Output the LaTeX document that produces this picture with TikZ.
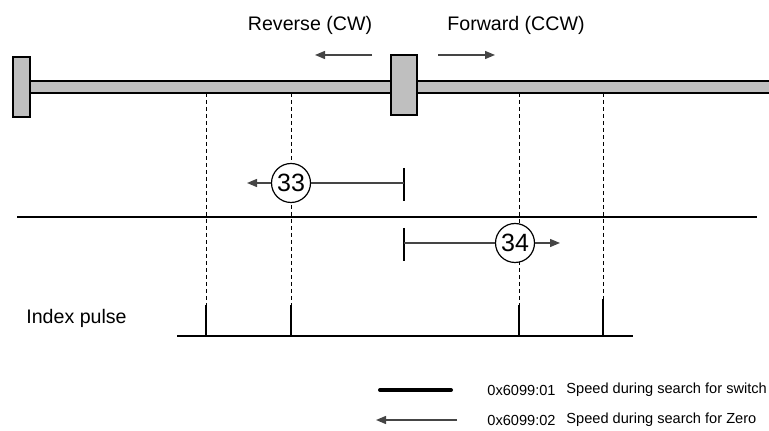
\documentclass[tikz,border=0pt]{standalone}
\usepackage{fontspec}
\setmainfont{Liberation Sans}
\usetikzlibrary{arrows.meta,positioning}
\definecolor{railgray}{HTML}{BFBFBF}
\definecolor{arrgray}{HTML}{454545}

\begin{document}
\begin{tikzpicture}[x=0.5pt,y=-0.5pt,>={Triangle[length=5pt,width=4pt]},
  lbl/.style={font=\fontsize{9.8}{12}\selectfont,inner sep=0pt},
  leg/.style={font=\fontsize{7.3}{9}\selectfont,inner sep=0pt,anchor=west},
  num/.style={draw,circle,minimum size=19.5pt,inner sep=0pt,line width=0.6pt,fill=white,font=\fontsize{12.5}{14}\selectfont},
  spd/.style={line width=0.65pt,arrgray},
  blk/.style={fill=railgray,line width=1.1pt}]
\useasboundingbox (0,0) rectangle (769,431);
\fill[railgray] (30,81) rectangle (769,93);
\draw[line width=1.25pt] (30,81)--(769,81) (30,93)--(769,93);
\filldraw[blk] (13,57) rectangle (30,117); \filldraw[blk] (391,55) rectangle (417,115);
\node[lbl] (rev) at (310,25) {Reverse (CW)}; \node[lbl] (fwd) at (516,25) {Forward (CCW)};
\coordinate (revA) at (372,55); \coordinate (revB) at (315,55);
\coordinate (fwdA) at (438,55); \coordinate (fwdB) at (495,55);
\draw[spd,->] (revA)--(revB); \draw[spd,->] (fwdA)--(fwdB);
\foreach \x/\t in {206/305,291/305,519/305,603/299} {
  \draw[line width=0.5pt,dash pattern=on 2pt off 1.5pt] (\x,93)--(\x,\t);
  \draw[line width=1pt] (\x,\t)--(\x,337);
}
\draw[line width=1pt] (17,217)--(757,217);
\draw[line width=1pt] (177,336)--(633,336);
\node[lbl,anchor=west] (idx) at (26,318) {Index pulse};
\draw[line width=1pt] (404,168)--(404,201); \draw[line width=1pt] (404,228)--(404,261);
\coordinate (s33) at (404,183); \coordinate (e33) at (247,183);
\coordinate (s34) at (404,243); \coordinate (e34) at (560,243);
\node[num] (n33) at (291,183) {33}; \node[num] (n34) at (515,243) {34};
\draw[spd] (s33)--(n33); \draw[spd,->] (n33)--(e33);
\draw[spd] (s34)--(n34); \draw[spd,->] (n34)--(e34);
\coordinate (l1a) at (380,390); \coordinate (l1b) at (451,390);
\coordinate (l2a) at (457,420); \coordinate (l2b) at (376,420);
\draw[line width=2pt,line cap=round] (l1a)--(l1b); \draw[spd,->] (l2a)--(l2b);
\node[leg] (c1) at (487,390) {0x6099:01}; \node[leg] (d1) at (566,390) {Speed during search for switch};
\node[leg] (c2) at (487,420) {0x6099:02}; \node[leg] (d2) at (566,420) {Speed during search for Zero};
\end{tikzpicture}
\end{document}
